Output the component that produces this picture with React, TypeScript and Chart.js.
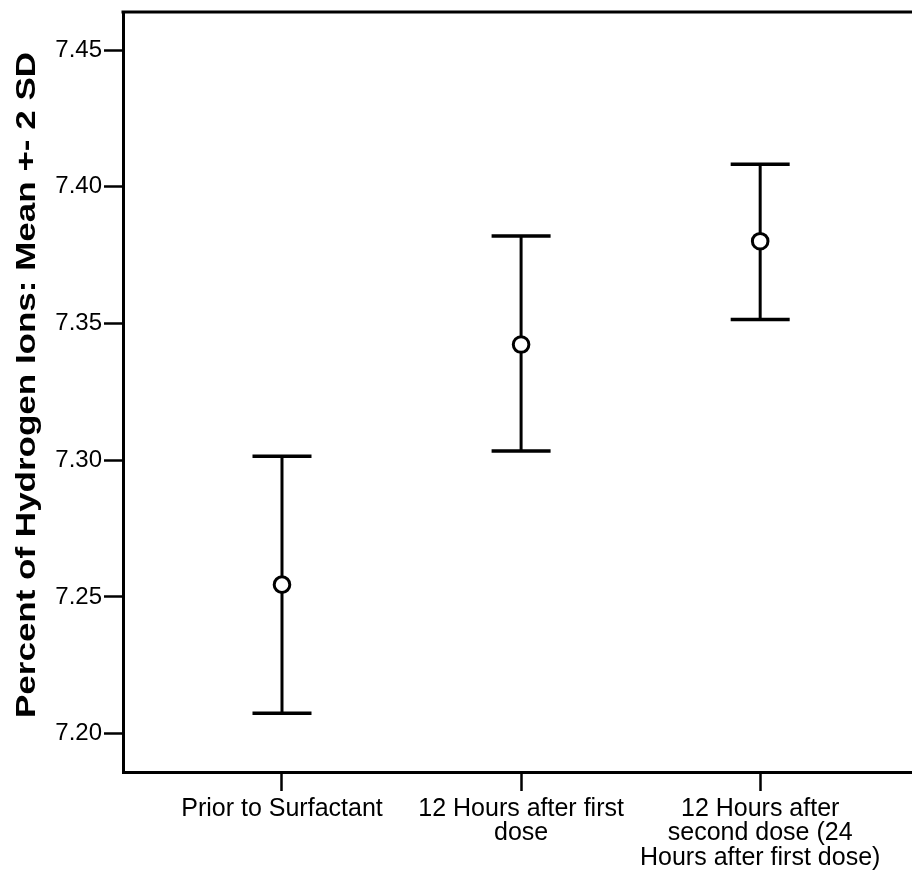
import React, { useEffect, useRef } from "react";
import { Chart, registerables } from "chart.js";

Chart.register(...registerables);

const categories: string[][] = [
  ["Prior to Surfactant"],
  ["12 Hours after first", "dose"],
  ["12 Hours after", "second dose (24", "Hours after first dose)"],
];
const categoryPositions = [1, 2, 3];
const means = [7.2545, 7.3423, 7.3801];
const upperValues = [7.3015, 7.382, 7.4082];
const lowerValues = [7.2075, 7.3034, 7.3515];
const yTickValues = [7.2, 7.25, 7.3, 7.35, 7.4, 7.45];
const yAxisTitle = "Percent of Hydrogen Ions: Mean +- 2 SD";

const FONT = '"Liberation Sans", Arial, Helvetica, sans-serif';

const errorBarPlugin = {
  id: "errorBars",
  beforeDatasetsDraw(chart: any) {
    const { ctx, scales } = chart;
    const xs = scales.x;
    const ys = scales.y;
    ctx.save();
    ctx.strokeStyle = "#000";
    ctx.lineCap = "butt";
    categoryPositions.forEach((pos, i) => {
      const x = xs.getPixelForValue(pos);
      const yU = ys.getPixelForValue(upperValues[i]);
      const yL = ys.getPixelForValue(lowerValues[i]);
      ctx.lineWidth = 3;
      ctx.beginPath();
      ctx.moveTo(x, yU);
      ctx.lineTo(x, yL);
      ctx.stroke();
      ctx.lineWidth = 3.5;
      ctx.beginPath();
      ctx.moveTo(x - 29.5, yU);
      ctx.lineTo(x + 29.5, yU);
      ctx.moveTo(x - 29.5, yL);
      ctx.lineTo(x + 29.5, yL);
      ctx.stroke();
    });
    ctx.restore();
  },
  afterDraw(chart: any) {
    const { ctx, chartArea } = chart;
    ctx.save();
    ctx.strokeStyle = "#000";
    ctx.lineWidth = 3;
    ctx.beginPath();
    ctx.moveTo(chartArea.left - 1.5, chartArea.top);
    ctx.lineTo(chartArea.right + 2, chartArea.top);
    ctx.stroke();
    // y axis title
    ctx.fillStyle = "#000";
    ctx.font = `bold 27px ${FONT}`;
    const natural = ctx.measureText(yAxisTitle).width;
    const target = 666;
    ctx.translate(35, 718);
    ctx.rotate(-Math.PI / 2);
    ctx.scale(target / natural, 1);
    ctx.textAlign = "left";
    ctx.textBaseline = "alphabetic";
    ctx.fillText(yAxisTitle, 0, 0);
    ctx.restore();
  },
};

export default function App() {
  const ref = useRef<HTMLCanvasElement | null>(null);
  useEffect(() => {
    if (!ref.current) return;
    const chart = new Chart(ref.current, {
      type: "scatter",
      data: {
        datasets: [
          {
            data: means.map((m, i) => ({ x: categoryPositions[i], y: m })),
            pointRadius: 7.8,
            pointHoverRadius: 7.8,
            pointBackgroundColor: "#fff",
            pointBorderColor: "#000",
            pointBorderWidth: 3,
            showLine: false,
          },
        ],
      },
      plugins: [errorBarPlugin],
      options: {
        animation: false,
        responsive: false,
        devicePixelRatio: 1,
        layout: { autoPadding: false, padding: { top: 12, right: 0, left: 0, bottom: 0 } },
        plugins: {
          legend: { display: false },
          tooltip: { enabled: false },
          title: { display: false },
        },
        scales: {
          x: {
            type: "linear",
            min: 0.335,
            max: 3.635,
            afterBuildTicks(scale: any) {
              scale.ticks = categoryPositions.map((v) => ({ value: v }));
            },
            afterFit(scale: any) {
              scale.height = 112;
              scale.paddingLeft = 0;
              scale.paddingRight = 0;
              scale.paddingTop = 0;
              scale.paddingBottom = 0;
            },
            grid: {
              drawOnChartArea: false,
              drawTicks: true,
              tickLength: 19,
              tickWidth: 2.5,
              tickColor: "#000",
            },
            border: { display: true, color: "#000", width: 3 },
            ticks: {
              color: "#000",
              padding: 6,
              maxRotation: 0,
              autoSkip: false,
              font: { family: FONT, size: 25, lineHeight: 0.97 },
              callback: (value: any) => {
                const idx = categoryPositions.indexOf(Number(value));
                return idx >= 0 ? categories[idx] : "";
              },
            },
          },
          y: {
            type: "linear",
            min: 7.186,
            max: 7.4639,
            afterBuildTicks(scale: any) {
              scale.ticks = yTickValues.map((v) => ({ value: v }));
            },
            afterFit(scale: any) {
              scale.width = 123;
              scale.paddingLeft = 0;
              scale.paddingRight = 0;
              scale.paddingTop = 0;
              scale.paddingBottom = 0;
            },
            grid: {
              drawOnChartArea: false,
              drawTicks: true,
              tickLength: 19,
              tickWidth: 2.5,
              tickColor: "#000",
            },
            border: { display: true, color: "#000", width: 3 },
            ticks: {
              color: "#000",
              padding: 2,
              font: { family: FONT, size: 24 },
              callback: (value: any) => Number(value).toFixed(2),
            },
          },
        },
      },
    });
    return () => chart.destroy();
  }, []);
  return (
    <div style={{ position: "absolute", left: 0, top: 0, width: 912, height: 884, background: "#fff" }}>
      <canvas ref={ref} width={912} height={884} style={{ display: "block", width: 912, height: 884 }} />
    </div>
  );
}
